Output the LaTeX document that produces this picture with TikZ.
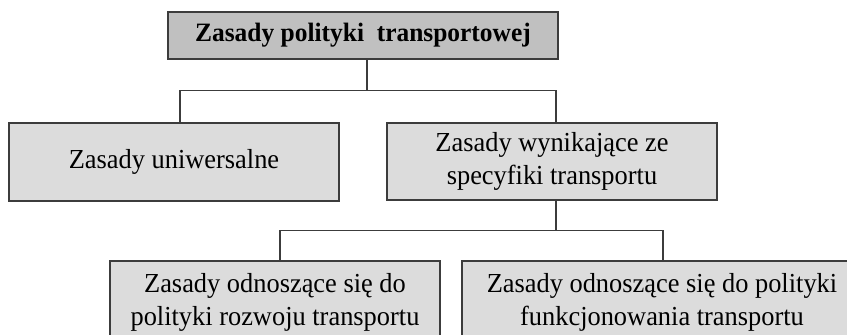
\documentclass[tikz,border=0pt]{standalone}
\usepackage{fontspec}
\setmainfont[FakeStretch=0.96]{Liberation Serif}
\definecolor{headfill}{HTML}{C0C0C0}
\definecolor{boxfill}{HTML}{DCDCDC}
\definecolor{edge}{HTML}{3C3C3C}
\begin{document}
\begin{tikzpicture}[x=1pt,y=-1pt,
  box/.style={draw=edge,line width=1.4pt,fill=boxfill,rectangle,inner sep=0pt,
    align=center,font=\fontsize{27.5}{33}\selectfont},
  headbox/.style={box,fill=headfill,font=\fontsize{26.5}{33}\selectfont\bfseries},
  link/.style={draw=edge,line width=1.2pt}]
\useasboundingbox (0,0) rectangle (847,335);
\clip (0,0) rectangle (847,335);

% boxes
\node[headbox,minimum width=390pt,minimum height=47pt] (root) at (363,35.5) {Zasady polityki \ transportowej};
\node[box,minimum width=330pt,minimum height=78pt] (uni) at (174,162) {Zasady uniwersalne};
\node[box,minimum width=330pt,minimum height=77pt] (spec) at (552,161.5) {Zasady wynikające ze\\specyfiki transportu};
\node[box,minimum width=330pt,minimum height=82pt] (dev) at (275,302) {Zasady odnoszące się do\\polityki rozwoju transportu};
\node[box,minimum width=400pt,minimum height=82pt] (func) at (662,302) {Zasady odnoszące się do polityki\\funkcjonowania transportu};

% connectors
\coordinate (j1) at ([xshift=4pt,yshift=-31pt]root.south);
\coordinate (j2) at ([xshift=4pt,yshift=-30pt]spec.south);
\draw[link] ([xshift=4pt]root.south) -- (j1);
\draw[link] (j1) -| ([xshift=6pt]uni.north);
\draw[link] (j1) -| ([xshift=4pt]spec.north);
\draw[link] ([xshift=4pt]spec.south) -- (j2);
\draw[link] (j2) -| ([xshift=5pt]dev.north);
\draw[link] (j2) -| ([xshift=1pt]func.north);
\end{tikzpicture}
\end{document}
